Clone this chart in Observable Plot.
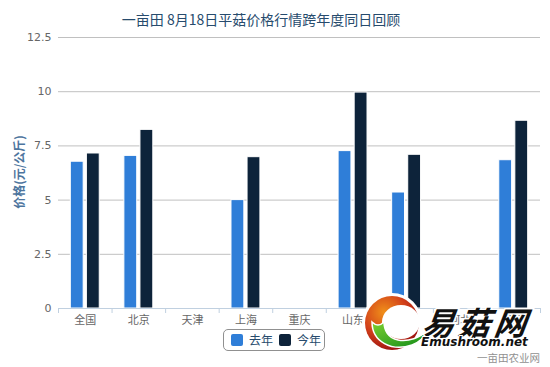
<!DOCTYPE html>
<html>
<head>
<meta charset="utf-8">
<script src="https://cdn.jsdelivr.net/npm/d3@7"></script>
<script src="https://cdn.jsdelivr.net/npm/@observablehq/plot@0.6"></script>
<style>
  html, body { margin: 0; padding: 0; background: #fff; }
  #wrap { position: relative; width: 550px; height: 367px; overflow: hidden;
    font-family: "DejaVu Sans", "Noto Sans CJK SC", sans-serif; }
  #wrap svg.plot { position: absolute; left: 0; top: 0; }
  .title { position: absolute; left: 0; top: 9px; width: 522px; text-align: center;
    font-size: 14px; color: #274b6d; font-family: "Noto Sans CJK SC", sans-serif; }
  .ytitle { position: absolute; left: 18px; top: 172px; transform: translate(-50%, -50%) rotate(-90deg);
    white-space: nowrap; font-size: 12px; font-weight: bold; color: #4d759e; font-family: "Noto Sans CJK SC", sans-serif; }
  .legend { position: absolute; left: 223px; top: 329px; width: 102px; height: 22px;
    border: 1px solid #909090; border-radius: 5px; box-sizing: border-box; }
  .legend .item { position: absolute; top: 0; height: 20px; line-height: 20px; font-size: 12px; color: #274b6d;
    font-family: "Noto Sans CJK SC", sans-serif; }
  .legend .sw { position: absolute; top: 4px; width: 12px; height: 12px; border-radius: 2px; }
  .credits { position: absolute; right: 10px; top: 350px; font-size: 10.5px; color: #909090;
    font-family: "Noto Sans CJK SC", sans-serif; }
  #logo { position: absolute; left: 0; top: 0; }
</style>
</head>
<body>
<div id="wrap"></div>
<script>
const categories = ["全国", "北京", "天津", "上海", "重庆", "山东", "河南", "河北", "江苏"];
const seriesNames = ["去年", "今年"];
const lastYear = [6.77, 7.04, null, 5.0, null, 7.26, 5.35, null, 6.84];
const thisYear = [7.15, 8.24, null, 6.98, null, 9.96, 7.09, null, 8.66];
const yTicks = [0, 2.5, 5, 7.5, 10, 12.5];
const colors = ["#2f7ed8", "#0d233a"];
const titleText = "一亩田 8月18日平菇价格行情跨年度同日回顾";
const yTitle = "价格(元/公斤)";
const creditText = "一亩田农业网";

const rows = [];
categories.forEach((c, i) => {
  if (lastYear[i] != null) rows.push({cat: c, series: seriesNames[0], value: lastYear[i]});
  if (thisYear[i] != null) rows.push({cat: c, series: seriesNames[1], value: thisYear[i]});
});

const W = 550, H = 367, mL = 58, mR = 10, mT = 37, mB = 59;
const band = (W - mL - mR) / categories.length;
const gp = band * 0.2, pw = (band - 2 * gp) / 2, pp = pw * 0.1;

const plot = Plot.plot({
  width: W, height: H,
  marginTop: mT, marginBottom: mB, marginLeft: mL, marginRight: mR,
  style: {fontFamily: "'DejaVu Sans', 'Noto Sans CJK SC', sans-serif", fontSize: "11px", color: "#666", background: "transparent"},
  x: {domain: categories, padding: 0, round: false, label: null},
  y: {domain: [0, 12.5], label: null},
  color: {domain: seriesNames, range: colors},
  marks: [
    Plot.gridY(yTicks, {stroke: "#C0C0C0", strokeOpacity: 1}),
    Plot.axisY(yTicks, {tickSize: 0, tickPadding: 7, label: null, fill: "#666", fontSize: 11,
      tickFormat: d => String(d)}),
    Plot.barY(rows.filter(d => d.series === seriesNames[0]), {
      x: "cat", y: "value", fill: "series", stroke: "white", strokeWidth: 1,
      insetLeft: gp + pp, insetRight: gp + pw + pp
    }),
    Plot.barY(rows.filter(d => d.series === seriesNames[1]), {
      x: "cat", y: "value", fill: "series", stroke: "white", strokeWidth: 1,
      insetLeft: gp + pw + pp, insetRight: gp + pp
    }),
    Plot.ruleY([0], {stroke: "#C0D0E0", strokeWidth: 1}),
    Plot.ruleX(categories, {x: d => d, dx: -band / 2, y1: 0, y2: 0, insetBottom: -5, stroke: "#C0D0E0"}),
    Plot.ruleX(categories.slice(-1), {x: d => d, dx: band / 2, y1: 0, y2: 0, insetBottom: -5, stroke: "#C0D0E0"}),
    Plot.axisX({tickSize: 0, tickPadding: 8, label: null, fill: "#666", fontSize: 11,
      fontFamily: "'Noto Sans CJK SC', sans-serif"})
  ]
});
plot.classList.add("plot");

const wrap = document.getElementById("wrap");
wrap.appendChild(plot);

const t = document.createElement("div"); t.className = "title"; t.textContent = titleText; wrap.appendChild(t);
const yt = document.createElement("div"); yt.className = "ytitle"; yt.textContent = yTitle; wrap.appendChild(yt);

const lg = document.createElement("div"); lg.className = "legend";
const legendPos = [{sw: 7, tx: 25}, {sw: 55, tx: 73}];
seriesNames.forEach((s, i) => {
  const sw = document.createElement("div"); sw.className = "sw";
  sw.style.left = legendPos[i].sw + "px"; sw.style.background = colors[i];
  const tx = document.createElement("div"); tx.className = "item";
  tx.style.left = legendPos[i].tx + "px"; tx.textContent = s;
  lg.appendChild(sw); lg.appendChild(tx);
});
wrap.appendChild(lg);

const cr = document.createElement("div"); cr.className = "credits"; cr.textContent = creditText; wrap.appendChild(cr);

// watermark logo
const logo = d3.select(wrap).append("svg").attr("id", "logo").attr("width", W).attr("height", H);
const defs = logo.append("defs");
const rg = defs.append("radialGradient").attr("id", "rg").attr("cx", "35%").attr("cy", "30%").attr("r", "75%");
rg.append("stop").attr("offset", "0%").attr("stop-color", "#f0901a");
rg.append("stop").attr("offset", "55%").attr("stop-color", "#d2401a");
rg.append("stop").attr("offset", "100%").attr("stop-color", "#9a1010");
const gg = defs.append("linearGradient").attr("id", "gg").attr("x1", "0").attr("y1", "0").attr("x2", "1").attr("y2", "1");
gg.append("stop").attr("offset", "0%").attr("stop-color", "#7cd030");
gg.append("stop").attr("offset", "100%").attr("stop-color", "#108a18");
const m = defs.append("mask").attr("id", "cm");
m.append("rect").attr("width", W).attr("height", H).attr("fill", "white");
m.append("ellipse").attr("cx", 401).attr("cy", 322).attr("rx", 19).attr("ry", 17).attr("fill", "black");
logo.append("circle").attr("cx", 392).attr("cy", 323).attr("r", 30).attr("fill", "white");
logo.append("circle").attr("cx", 392).attr("cy", 323).attr("r", 27).attr("fill", "url(#rg)").attr("mask", "url(#cm)");
logo.append("path").attr("d", "M372,322 C372,342 392,352 412,345 C420,342 425,336 428,330 C420,338 408,342 398,340 C388,338 384,330 384,322 C380,326 376,326 372,322 Z")
  .attr("fill", "url(#gg)").attr("stroke", "white").attr("stroke-width", 1.5);
logo.append("text").attr("x", 421).attr("y", 335).attr("font-size", 32).attr("font-weight", "bold")
  .attr("font-style", "italic").attr("font-family", "'Noto Sans CJK SC', sans-serif")
  .attr("fill", "#111").attr("stroke", "white").attr("stroke-width", 3).attr("paint-order", "stroke")
  .attr("letter-spacing", 4)
  .attr("transform", "skewX(-8)").attr("dx", 47).text("易菇网");
logo.append("text").attr("x", 421).attr("y", 346).attr("font-size", 12).attr("font-weight", "bold")
  .attr("font-style", "italic").attr("font-family", "'DejaVu Sans', sans-serif")
  .attr("fill", "#111").attr("stroke", "white").attr("stroke-width", 2).attr("paint-order", "stroke")
  .text("Emushroom.net");
</script>
</body>
</html>
